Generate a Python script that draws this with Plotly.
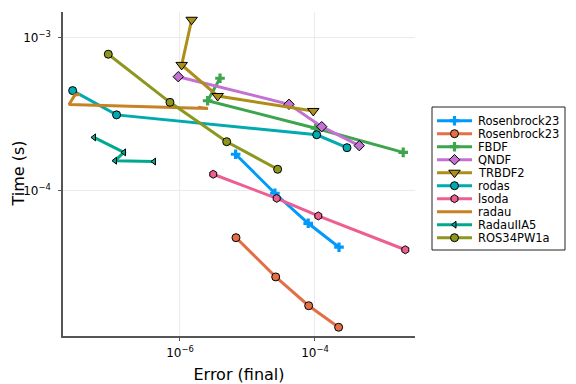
import plotly.graph_objects as go

# ---- data ----
names = ["Rosenbrock23", "Rosenbrock23", "FBDF", "QNDF", "TRBDF2", "rodas",
         "lsoda", "radau", "RadauIIA5", "ROS34PW1a"]

rb23_x = [6.68e-6, 2.55e-5, 7.94e-5, 2.27e-4]
rb23_y = [1.73e-4, 9.62e-5, 6.12e-5, 4.27e-5]

rb23b_x = [6.76e-6, 2.62e-5, 8.07e-5, 2.24e-4]
rb23b_y = [4.93e-5, 2.73e-5, 1.77e-5, 1.28e-5]

fbdf_x = [3.92e-6, 2.57e-6, 1.02e-4, 2.03e-3]
fbdf_y = [5.43e-4, 3.87e-4, 2.56e-4, 1.78e-4]

qndf_x = [9.44e-7, 4.12e-5, 1.26e-4, 4.53e-4]
qndf_y = [5.56e-4, 3.67e-4, 2.62e-4, 1.97e-4]

trbdf2_x = [1.49e-6, 1.06e-6, 3.62e-6, 9.44e-5]
trbdf2_y = [1.31e-3, 6.64e-4, 4.16e-4, 3.32e-4]

rodas_x = [2.57e-8, 1.15e-7, 1.06e-4, 2.98e-4]
rodas_y = [4.51e-4, 3.13e-4, 2.32e-4, 1.91e-4]

lsoda_x = [3.11e-6, 2.71e-5, 1.12e-4, 2.18e-3]
lsoda_y = [1.28e-4, 8.91e-5, 6.84e-5, 4.11e-5]

radau_x = [3.30e-8, 2.78e-8, 2.27e-8, 2.60e-6, 1.85e-6]
radau_y = [4.26e-4, 4.22e-4, 3.66e-4, 3.44e-4, 3.51e-4]

radauiia5_x = [5.32e-8, 1.48e-7, 1.09e-7, 4.12e-7]
radauiia5_y = [2.23e-4, 1.78e-4, 1.57e-4, 1.55e-4]

ros_x = [8.67e-8, 7.11e-7, 4.92e-6, 2.80e-5]
ros_y = [7.80e-4, 3.78e-4, 2.09e-4, 1.38e-4]

x_tick_vals = [1e-6, 1e-4]
x_tick_text = ["10<sup>\u22126</sup>", "10<sup>\u22124</sup>"]
y_tick_vals = [1e-4, 1e-3]
y_tick_text = ["10<sup>\u22124</sup>", "10<sup>\u22123</sup>"]

# ---- styles ----
colors = ["#009AFA", "#E36F47", "#3EA44E", "#C371D2", "#AC8E18",
          "#00AAAE", "#ED5E93", "#C68225", "#00A98D", "#8E971D"]
symbols = ["cross", "circle", "cross", "diamond", "triangle-down",
           "circle", "hexagon", "circle", "triangle-left", "circle"]
sizes = [8, 8, 8, 8, 10, 8, 8, 0, 6, 8]
outlined = [False, True, False, True, True, True, True, False, True, True]
has_marker = [True, True, True, True, True, True, True, False, True, True]

series = [(rb23_x, rb23_y), (rb23b_x, rb23b_y), (fbdf_x, fbdf_y), (qndf_x, qndf_y),
          (trbdf2_x, trbdf2_y), (rodas_x, rodas_y), (lsoda_x, lsoda_y),
          (radau_x, radau_y), (radauiia5_x, radauiia5_y), (ros_x, ros_y)]

FONT = "DejaVu Sans"
# the page places the figure 8px from the window's top-left corner
OFF = 8
W, H = 576 - OFF, 384 - OFF
# plot area in window px
PL, PR, PT, PB = 63, 415, 12, 336
# legend box in window px
LL, LR, LT, LB = 432, 565, 107, 250


def fx(px):
    return (px - OFF) / W


def fy(py):
    return 1 - (py - OFF) / H


fig = go.Figure()


def marker_for(i):
    if not has_marker[i]:
        return None
    return dict(symbol=symbols[i], size=sizes[i], color=colors[i],
                line=dict(color="black" if outlined[i] else colors[i],
                          width=1 if outlined[i] else 0))


for i, (xs, ys) in enumerate(series):
    fig.add_trace(go.Scatter(
        x=xs, y=ys, name=names[i],
        mode="lines+markers" if has_marker[i] else "lines",
        line=dict(color=colors[i], width=3),
        marker=marker_for(i),
        showlegend=False, xaxis="x", yaxis="y",
    ))

# ---- manual legend (compact, like the reference) ----
leg_w = LR - LL
for i in range(len(names)):
    fig.add_trace(go.Scatter(
        x=[5, 40], y=[i, i], mode="lines",
        line=dict(color=colors[i], width=3),
        showlegend=False, hoverinfo="skip", xaxis="x2", yaxis="y2"))
    if has_marker[i]:
        fig.add_trace(go.Scatter(
            x=[22.5], y=[i], mode="markers", marker=marker_for(i),
            showlegend=False, hoverinfo="skip", xaxis="x2", yaxis="y2"))
    fig.add_annotation(x=44, y=i, xref="x2", yref="y2", text=names[i],
                       showarrow=False, xanchor="left", yanchor="middle",
                       font=dict(family=FONT, size=11.5, color="black"))

row_px = 13.0
n_rows = (LB - LT) / row_px
top_off = 13.7 / row_px

fig.add_shape(type="rect", xref="paper", yref="paper",
              x0=fx(LL), x1=fx(LR), y0=fy(LB), y1=fy(LT),
              line=dict(color="#222222", width=1), fillcolor="rgba(0,0,0,0)",
              layer="below")

# y axis title
fig.add_annotation(x=fx(OFF), y=fy((PT + PB) / 2), xref="paper", yref="paper",
                   text="Time (s)", textangle=-90, showarrow=False,
                   xanchor="left", yanchor="middle", borderpad=0,
                   font=dict(family=FONT, size=16, color="black"))

axis_common = dict(
    showline=True, linecolor="#555555", linewidth=1.5,
    ticks="outside", ticklen=3, tickcolor="#555555", tickwidth=1,
    showgrid=True, gridcolor="#ebebeb", gridwidth=1, zeroline=False,
    tickfont=dict(family=FONT, size=12, color="black"),
    mirror=False, automargin=False,
)

fig.update_layout(
    width=W, height=H,
    margin=dict(l=0, r=0, t=0, b=0, pad=0, autoexpand=False),
    paper_bgcolor="white", plot_bgcolor="white",
    font=dict(family=FONT, color="black"),
    xaxis=dict(type="log", range=[-7.733, -2.518],
               domain=[fx(PL), fx(PR)], anchor="y",
               tickmode="array", tickvals=x_tick_vals, ticktext=x_tick_text,
               ticklabelstandoff=2,
               title=dict(text="Error (final)", font=dict(family=FONT, size=16)),
               **axis_common),
    yaxis=dict(type="log", range=[-4.950, -2.832],
               domain=[fy(PB), fy(PT)], anchor="x",
               tickmode="array", tickvals=y_tick_vals, ticktext=y_tick_text,
               ticklabelstandoff=5,
               **axis_common),
    xaxis2=dict(range=[0, leg_w], domain=[fx(LL), fx(LR)], anchor="y2",
                visible=False, fixedrange=True, automargin=False),
    yaxis2=dict(range=[n_rows - top_off, -top_off],
                domain=[fy(LB), fy(LT)], anchor="x2",
                visible=False, fixedrange=True, automargin=False),
    showlegend=False,
)

fig.write_html("out.html")
